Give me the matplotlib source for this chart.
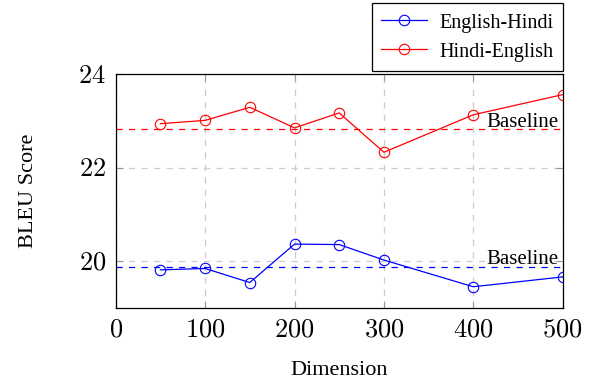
import matplotlib
matplotlib.use("Agg")
import matplotlib.pyplot as plt

dims = [50, 100, 150, 200, 250, 300, 400, 500]
en_hi = [19.82, 19.85, 19.55, 20.37, 20.36, 20.03, 19.46, 19.67]
hi_en = [22.94, 23.01, 23.29, 22.85, 23.17, 22.33, 23.13, 23.56]
baseline_en_hi = 19.89
baseline_hi_en = 22.82
x_ticks = [0, 100, 200, 300, 400, 500]
y_ticks = [20, 22, 24]

plt.rcParams['font.family'] = ['Liberation Serif', 'DejaVu Serif']
plt.rcParams['mathtext.fontset'] = 'cm'

fig = plt.figure(figsize=(5.96, 3.83), dpi=100)
ax = fig.add_axes([115.7/596, 1 - 308.3/383, (562.7-115.7)/596, (308.3-74)/383])

ax.set_xlim(0, 500)
ax.set_ylim(19.0, 24.0)
ax.set_xticks(x_ticks)
ax.set_yticks(y_ticks)
ax.set_xticklabels([f"${t}$" for t in x_ticks], fontsize=19)
ax.set_yticklabels([f"${t}$" for t in y_ticks], fontsize=19)
ax.grid(True, color='#cccccc', linestyle=(0, (5, 5)), linewidth=0.9)
ax.set_axisbelow(True)
ax.tick_params(direction='in', length=5, width=0.8, color='0.6',
               top=True, right=True)
ax.tick_params(axis='x', pad=8)
ax.tick_params(axis='y', pad=7)
for s in ax.spines.values():
    s.set_linewidth(0.9)

ax.axhline(baseline_hi_en, color='red', linestyle=(0, (5, 5)), linewidth=0.9)
ax.axhline(baseline_en_hi, color='blue', linestyle=(0, (5, 5)), linewidth=0.9)

ax.plot(dims, en_hi, color='blue', marker='o', markersize=7.5, markerfacecolor='none',
        markeredgewidth=0.8, linewidth=0.9, label='English-Hindi')
ax.plot(dims, hi_en, color='red', marker='o', markersize=7.5, markerfacecolor='none',
        markeredgewidth=0.8, linewidth=0.9, label='Hindi-English')

ax.text(495, baseline_hi_en - 0.05, 'Baseline', ha='right', va='bottom', fontsize=15)
ax.text(495, baseline_en_hi - 0.05, 'Baseline', ha='right', va='bottom', fontsize=15)

ax.set_xlabel('Dimension', fontsize=16, labelpad=14)
ax.set_ylabel('BLEU Score', fontsize=16, labelpad=29)

leg = ax.legend(loc='lower right', bbox_to_anchor=(1.0, 1.012), borderaxespad=0,
                fontsize=14.5, fancybox=False, edgecolor='black', framealpha=1,
                handlelength=2.3, handleheight=1.0, handletextpad=0.6,
                borderpad=0.45, labelspacing=0.4)
leg.get_frame().set_linewidth(0.9)

fig.savefig('out.png', dpi=100)
